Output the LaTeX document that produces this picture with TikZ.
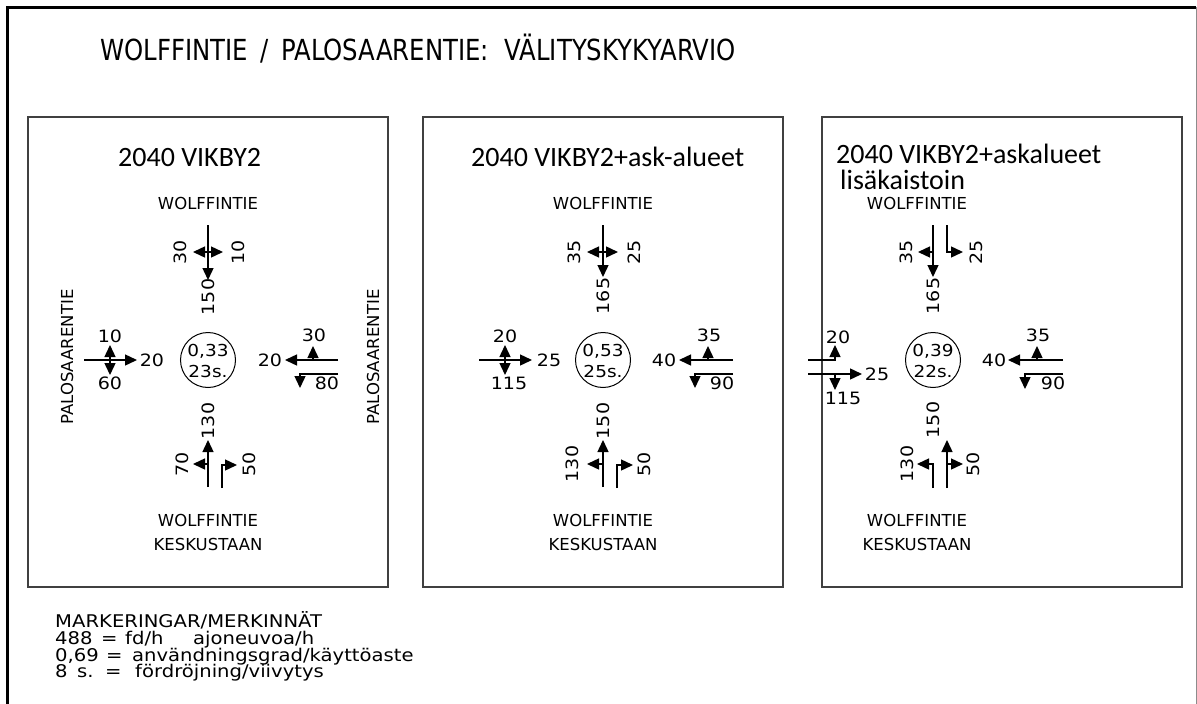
\documentclass[tikz,border=0pt]{standalone}
\usepackage{fontspec}
\usetikzlibrary{arrows.meta}
\newfontfamily\cadfont{DejaVu Sans}
\newfontfamily\cadwide[FakeStretch=1.12]{DejaVu Sans}
\newfontfamily\cadtitle[FakeStretch=0.84]{DejaVu Sans}
\newfontfamily\cadhead{Carlito}
\begin{document}
\begin{tikzpicture}[x=1pt,y=-1pt,
  road/.style={line width=1.4pt},
  flow/.style={line width=1.4pt,-{Triangle[length=12pt,width=11pt]}},
  num/.style={font=\cadwide\fontsize{17}{17}\selectfont, inner sep=0pt},
  vnum/.style={num, rotate=90},
  ctext/.style={font=\cadwide\fontsize{16.5}{21.5}\selectfont, inner sep=0pt, align=center},
  rname/.style={font=\cadfont\fontsize{16.5}{24}\selectfont, inner sep=0pt, align=center},
  vname/.style={rname, rotate=90},
  head/.style={font=\cadhead\fontsize{28}{28}\selectfont, inner sep=0pt, anchor=base west},
  legend/.style={font=\cadwide\fontsize{17.5}{17.5}\selectfont, inner sep=0pt, anchor=base west},
  panel/.style={line width=1.5pt, black!75},
  ring/.style={line width=1pt}
]
\useasboundingbox (0,0) rectangle (1197,704);
% outer frame
\draw[line width=3pt] (7,720) -- (7,7) -- (1196,7);
\draw[line width=1pt, black!45] (1196,7) -- (1196,720);
% title
\node[font=\cadtitle\fontsize{29}{29}\selectfont, inner sep=0pt, anchor=base west] (title) at (100,60)
  {WOLFFINTIE \,/\, PALOSAARENTIE:\ \ VÄLITYSKYKYARVIO};
% panels
\draw[panel] (28,117) rectangle (388,587);
\draw[panel] (423,117) rectangle (783,587);
\draw[panel] (822,117) rectangle (1182,587);
\node[head] (h1) at (118,166) {2040 VIKBY2};
\node[head] (h2) at (471,166) {2040 VIKBY2+ask-alueet};
\node[head] (h3) at (836,163) {2040 VIKBY2+askalueet};
\node[head] (h3b) at (840,189) {lisäkaistoin};

% ===== Panel 1 =====
\begin{scope}[shift={(208,360)}]
  \node[rname] (p1n) at (0,-157) {WOLFFINTIE};
  \node[rname] (p1s) at (0,172) {WOLFFINTIE\\KESKUSTAAN};
  \node[vname] (p1w) at (-141,-3) {PALOSAARENTIE};
  \node[vname] (p1e) at (165,-3) {PALOSAARENTIE};
  \draw[ring] (0,0) circle[radius=27.5];
  \node[ctext] (p1c) at (0,1) {0,33\\23s.};
  % north
  \draw[flow] (0,-135) -- (0,-80);
  \draw[flow] (0,-108) -- (-15,-108);
  \draw[flow] (0,-108) -- (15,-108);
  \node[vnum] (p1n1) at (-28,-108) {30};
  \node[vnum] (p1n2) at (30,-108) {10};
  \node[vnum] (p1n3) at (0,-63) {150};
  % west
  \draw[flow] (-124,0) -- (-71,0);
  \draw[flow] (-98,0) -- (-98,-15);
  \draw[flow] (-98,0) -- (-98,15);
  \node[num] (p1w1) at (-98,-24) {10};
  \node[num] (p1w2) at (-98,23) {60};
  \node[num] (p1w3) at (-56,0) {20};
  % east
  \draw[flow] (130,0) -- (77,0);
  \draw[flow] (105,0) -- (105,-14);
  \draw[flow] (130,14) -- (92,14) -- (92,28);
  \node[num] (p1e1) at (106,-25) {30};
  \node[num] (p1e2) at (62,0) {20};
  \node[num] (p1e3) at (119,23) {80};
  % south
  \draw[flow] (0,127) -- (0,80);
  \draw[flow] (0,104) -- (-15,104);
  \draw[flow] (14,128) -- (14,105) -- (29,105);
  \node[vnum] (p1s1) at (-26,104) {70};
  \node[vnum] (p1s2) at (0,61) {130};
  \node[vnum] (p1s3) at (41,104) {50};
\end{scope}

% ===== Panel 2 =====
\begin{scope}[shift={(603,360)}]
  \node[rname] (p2n) at (0,-157) {WOLFFINTIE};
  \node[rname] (p2s) at (0,172) {WOLFFINTIE\\KESKUSTAAN};
  \draw[ring] (0,0) circle[radius=27.5];
  \node[ctext] (p2c) at (0,1) {0,53\\25s.};
  % north
  \draw[flow] (0,-135) -- (0,-83);
  \draw[flow] (0,-108) -- (-16,-108);
  \draw[flow] (0,-108) -- (15,-108);
  \node[vnum] (p2n1) at (-29,-108) {35};
  \node[vnum] (p2n2) at (31,-108) {25};
  \node[vnum] (p2n3) at (0,-64) {165};
  % west
  \draw[flow] (-124,0) -- (-71,0);
  \draw[flow] (-98,0) -- (-98,-15);
  \draw[flow] (-98,0) -- (-98,15);
  \node[num] (p2w1) at (-98,-24) {20};
  \node[num] (p2w2) at (-94,23) {115};
  \node[num] (p2w3) at (-54,0) {25};
  % east
  \draw[flow] (130,0) -- (76,0);
  \draw[flow] (105,0) -- (105,-14);
  \draw[flow] (130,14) -- (92,14) -- (92,28);
  \node[num] (p2e1) at (106,-25) {35};
  \node[num] (p2e2) at (61,0) {40};
  \node[num] (p2e3) at (119,23) {90};
  % south
  \draw[flow] (0,127) -- (0,80);
  \draw[flow] (0,104) -- (-16,104);
  \draw[flow] (14,128) -- (14,105) -- (30,105);
  \node[vnum] (p2s1) at (-31,104) {130};
  \node[vnum] (p2s2) at (0,61) {150};
  \node[vnum] (p2s3) at (41,104) {50};
\end{scope}

% ===== Panel 3 =====
\begin{scope}[shift={(933,360)}]
  \node[rname] (p3n) at (-16,-157) {WOLFFINTIE};
  \node[rname] (p3s) at (-16,172) {WOLFFINTIE\\KESKUSTAAN};
  \draw[ring] (0,0) circle[radius=27.5];
  \node[ctext] (p3c) at (0,1) {0,39\\22s.};
  % north
  \draw[flow] (0,-135) -- (0,-83);
  \draw[flow] (0,-108) -- (-15,-108);
  \draw[flow] (14,-135) -- (14,-108) -- (30,-108);
  \node[vnum] (p3n1) at (-27,-108) {35};
  \node[vnum] (p3n2) at (43,-108) {25};
  \node[vnum] (p3n3) at (0,-64) {165};
  % west
  \draw[flow] (-125,0) -- (-98,0) -- (-98,-15);
  \draw[flow] (-125,14) -- (-71,14);
  \draw[flow] (-98,14) -- (-98,30);
  \node[num] (p3w1) at (-95,-23) {20};
  \node[num] (p3w2) at (-90,38) {115};
  \node[num] (p3w3) at (-56,14) {25};
  % east
  \draw[flow] (130,0) -- (75,0);
  \draw[flow] (104,0) -- (104,-14);
  \draw[flow] (130,14) -- (92,14) -- (92,29);
  \node[num] (p3e1) at (105,-25) {35};
  \node[num] (p3e2) at (61,0) {40};
  \node[num] (p3e3) at (120,23) {90};
  % south
  \draw[flow] (0,128) -- (0,104) -- (-16,104);
  \draw[flow] (14,128) -- (14,80);
  \draw[flow] (14,104) -- (30,104);
  \node[vnum] (p3s1) at (-26,104) {130};
  \node[vnum] (p3s2) at (0,60) {150};
  \node[vnum] (p3s3) at (40,104) {50};
\end{scope}

% legend
\node[legend] (l1) at (55,627) {MARKERINGAR/MERKINNÄT};
\node[legend] (l2) at (55,644) {\rlap{488}\hspace{46pt}\rlap{=}\hspace{24pt}\rlap{fd/h}\hspace{68pt}ajoneuvoa/h};
\node[legend] (l3) at (55,661) {\rlap{0,69}\hspace{51pt}\rlap{=}\hspace{26pt}användningsgrad/käyttöaste};
\node[legend] (l4) at (55,677) {\rlap{8}\hspace{22pt}\rlap{s.}\hspace{28pt}\rlap{=}\hspace{30pt}fördröjning/viivytys};
\end{tikzpicture}
\end{document}
